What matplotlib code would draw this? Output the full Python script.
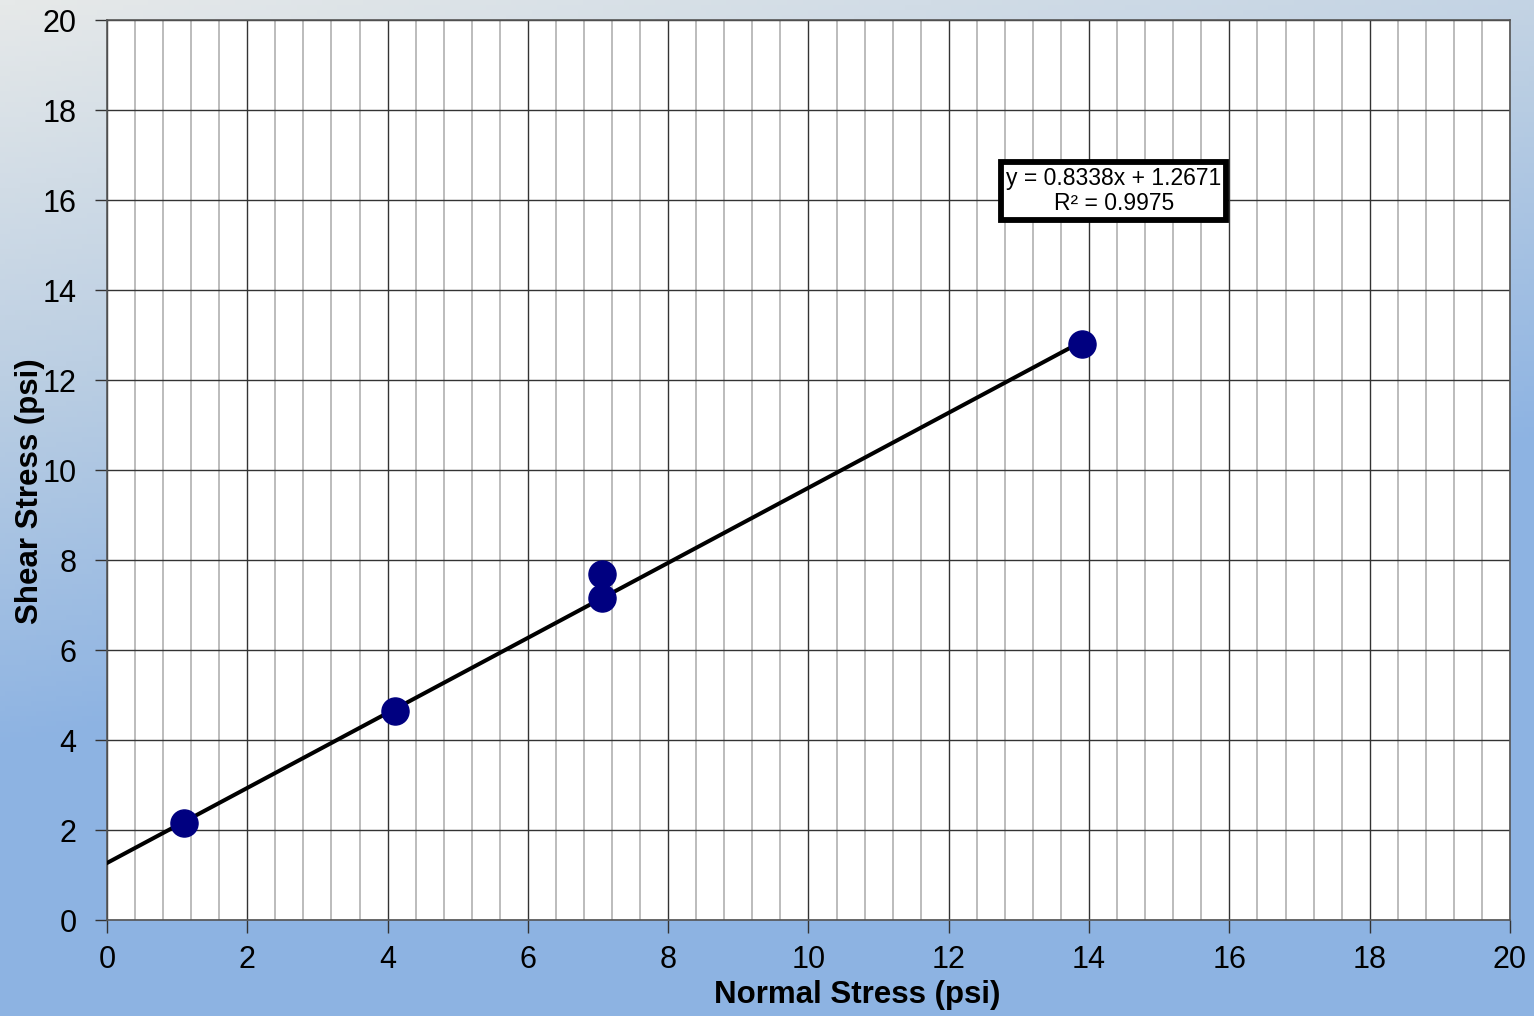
import numpy as np
import matplotlib
matplotlib.use("Agg")
import matplotlib.pyplot as plt
from matplotlib.colors import LinearSegmentedColormap
from matplotlib.ticker import MultipleLocator

plt.rcParams['font.family'] = ['Liberation Sans', 'DejaVu Sans']

normal_stress = [1.1, 4.1, 7.05, 7.05, 13.9]
shear_stress = [2.15, 4.65, 7.7, 7.15, 12.8]
slope = 0.8338
intercept = 1.2671
r_squared = 0.9975
x_ticks = [0, 2, 4, 6, 8, 10, 12, 14, 16, 18, 20]
y_ticks = [0, 2, 4, 6, 8, 10, 12, 14, 16, 18, 20]

W, H = 1534, 1016
fig = plt.figure(figsize=(W / 100, H / 100), dpi=100)

# background gradient
bg = fig.add_axes([0, 0, 1, 1])
bg.set_axis_off()
ny, nx = 200, 300
yy, xx = np.mgrid[0:1:ny * 1j, 0:1:nx * 1j]
t = np.clip(yy * 1.15 + xx * 0.35, 0, 1)
t = np.clip(t / 0.85, 0, 1)
cmap = LinearSegmentedColormap.from_list('bg', ['#e6e9e9', '#bccfe3', '#8db3e2'])
bg.imshow(t, cmap=cmap, aspect='auto', extent=[0, 1, 0, 1], origin='upper', vmin=0, vmax=1)
bg.set_xlim(0, 1)
bg.set_ylim(0, 1)

ax = fig.add_axes([107 / W, 1 - 920 / H, (1510 - 107) / W, (920 - 20) / H])
ax.set_facecolor('white')
ax.set_xlim(0, 20)
ax.set_ylim(0, 20)
ax.set_xticks(x_ticks)
ax.set_yticks(y_ticks)
ax.xaxis.set_minor_locator(MultipleLocator(0.4))
ax.grid(which='minor', axis='x', color='#b0b0b0', linewidth=1.2)
ax.grid(which='major', axis='both', color='#333333', linewidth=1.0)
ax.tick_params(which='minor', length=0)
ax.tick_params(which='major', length=9, width=1.0, color='#333333', labelsize=22)
ax.tick_params(axis='x', pad=9)
ax.tick_params(axis='y', pad=13)
ax.set_axisbelow(True)
for s in ax.spines.values():
    s.set_color('#555555')
    s.set_linewidth(1.2)

xs = np.array([0, max(normal_stress)])
ax.plot(xs, slope * xs + intercept, color='black', linewidth=2.9, zorder=3)
ax.plot(normal_stress, shear_stress, 'o', color='#000080', markersize=19.5, zorder=4, clip_on=False)

ax.set_xlabel('Normal Stress (psi)', fontsize=22.5, fontweight='bold', labelpad=2)
ax.set_ylabel('Shear Stress (psi)', fontsize=22.5, fontweight='bold', labelpad=2)
ax.xaxis.set_label_coords((857 - 107) / 1403, -(995 - 920) / 900)
ax.yaxis.set_label_coords(-(107 - 30) / 1403, (920 - 491) / 900)
ax.xaxis.label.set_va('center')
ax.yaxis.label.set_va('center')

ax.text(14.35, 16.2, f'y = {slope:.4f}x + {intercept:.4f}\nR² = {r_squared:.4f}',
        ha='center', va='center', fontsize=16.5, linespacing=1.15, zorder=5,
        bbox=dict(boxstyle='square,pad=0.22', facecolor='white', edgecolor='black', linewidth=4.2))

fig.savefig('out.png', dpi=100)
